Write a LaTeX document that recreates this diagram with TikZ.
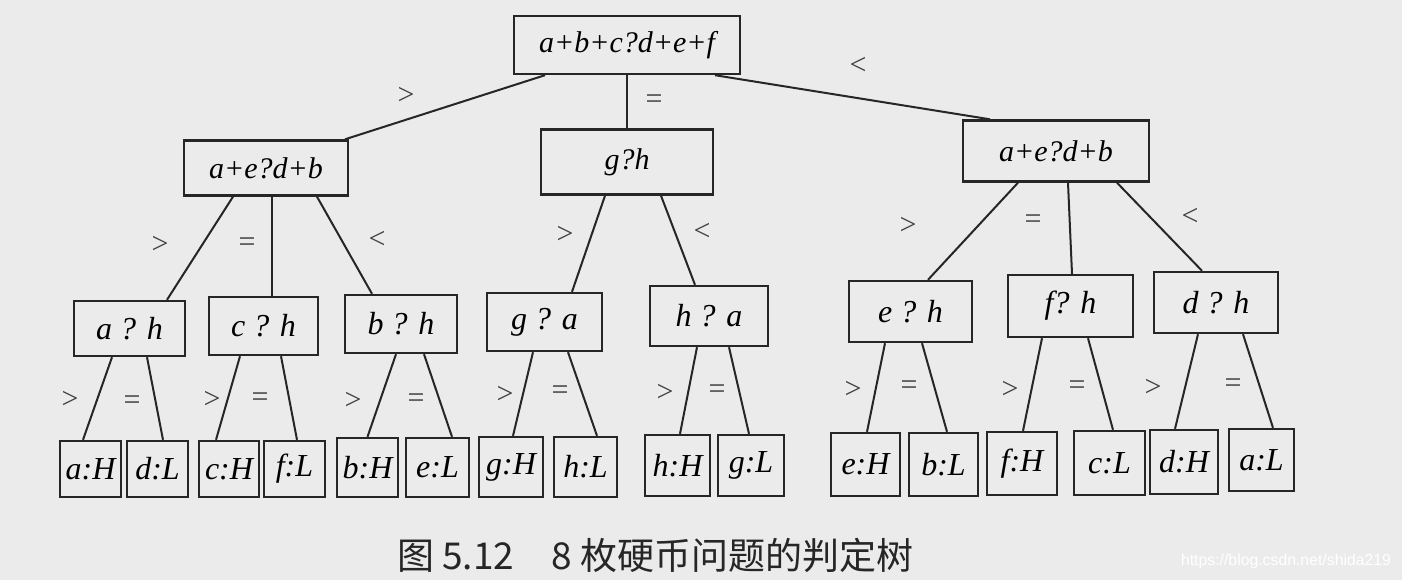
\documentclass[tikz,border=0pt]{standalone}
\usepackage{fontspec}
\setmainfont{Liberation Serif}
\newfontfamily\cjkfont{Noto Sans CJK SC}
\newfontfamily\urlfont{Liberation Sans}
\usepackage{tikz}

\tikzset{
  box/.style={draw=black!85, line width=1.2pt, inner sep=0pt, font=\fontsize{15}{18}\selectfont\itshape},
  leaf/.style={box, font=\fontsize{16}{19}\selectfont\itshape},
  rel/.style={inner sep=0pt, text=black!75, font=\fontsize{15}{17}\selectfont},
  edge/.style={draw=black!85, line width=1pt}
}

\begin{document}
\begin{tikzpicture}[x=0.5pt, y=-0.5pt]
      \fill[gray!16] (0,0) rectangle (1402,580);
      \useasboundingbox (0,0) rectangle (1402,580);

      % root
      \node[box, minimum width=113pt, minimum height=29pt] (root) at (627,45) {a+b+c?d+e+f};

      % second level
      \node[box, minimum width=82pt, minimum height=27.5pt] (lt) at (266,168) {a+e?d+b};
      \node[box, minimum width=86pt, minimum height=32.5pt] (mid) at (627,162) {g?h};
      \node[box, minimum width=93pt, minimum height=30.5pt] (rt) at (1056,151) {a+e?d+b};

      \draw[edge] ([xshift=-41pt]root.south) -- ([xshift=39.5pt]lt.north);
      \draw[edge] (root.south) -- (mid.north);
      \draw[edge] ([xshift=44pt]root.south) -- ([xshift=-33pt]rt.north);
      \node[rel] (r0a) at (406,96) {>};
      \node[rel] (r0b) at (654,102) {=};
      \node[rel] (r0c) at (858,66) {<};

      % third level
      \node[leaf, minimum width=55.5pt, minimum height=27.5pt] (ah) at (129.5,328.5) {a ? h};
      \node[leaf, minimum width=54.5pt, minimum height=29pt] (ch) at (263.5,326) {c ? h};
      \node[leaf, minimum width=56pt, minimum height=29pt] (bh) at (401,324) {b ? h};
      \node[leaf, minimum width=57.5pt, minimum height=29pt] (ga) at (544.5,322) {g ? a};
      \node[leaf, minimum width=59pt, minimum height=30pt] (ha) at (709,316) {h ? a};
      \node[leaf, minimum width=61.5pt, minimum height=30.5pt] (eh) at (910.5,311.5) {e ? h};
      \node[leaf, minimum width=62.5pt, minimum height=31pt] (fh) at (1070.5,306) {f? h};
      \node[leaf, minimum width=62pt, minimum height=30.5pt] (dh) at (1216,302.5) {d ? h};

      \draw[edge] ([xshift=-16.5pt]lt.south) -- ([xshift=18.75pt]ah.north);
      \draw[edge] ([xshift=3pt]lt.south) -- ([xshift=4.25pt]ch.north);
      \draw[edge] ([xshift=25.5pt]lt.south) -- ([xshift=-14.5pt]bh.north);
      \draw[edge] ([xshift=-11pt]mid.south) -- ([xshift=13.75pt]ga.north);
      \draw[edge] ([xshift=17pt]mid.south) -- ([xshift=-7pt]ha.north);
      \draw[edge] ([xshift=-19pt]rt.south) -- ([xshift=8.75pt]eh.north);
      \draw[edge] ([xshift=6pt]rt.south) -- ([xshift=0.75pt]fh.north);
      \draw[edge] ([xshift=30.5pt]rt.south) -- ([xshift=-7pt]dh.north);
      \node[rel] (r1a) at (160,245) {>};
      \node[rel] (r1b) at (247,245) {=};
      \node[rel] (r1c) at (377,240) {<};
      \node[rel] (r2a) at (565,235) {>};
      \node[rel] (r2c) at (702,232) {<};
      \node[rel] (r3a) at (908,226) {>};
      \node[rel] (r3b) at (1033,222) {=};
      \node[rel] (r3c) at (1190,217) {<};

      % leaves
      \node[leaf, minimum width=30.5pt, minimum height=28pt] (aH) at (90.5,469) {a:H};
      \node[leaf, minimum width=30.5pt, minimum height=28pt] (dL) at (157.5,469) {d:L};
      \node[leaf, minimum width=30pt, minimum height=28pt] (cH) at (229,469) {c:H};
      \node[leaf, minimum width=30.5pt, minimum height=28pt] (fL) at (294.5,469) {f:L};
      \node[leaf, minimum width=30.5pt, minimum height=29.5pt] (bH) at (367.5,467.5) {b:H};
      \node[leaf, minimum width=31.5pt, minimum height=29.5pt] (eL) at (437.5,467.5) {e:L};
      \node[leaf, minimum width=32pt, minimum height=30pt] (gH) at (511,467) {g:H};
      \node[leaf, minimum width=31.5pt, minimum height=30pt] (hL) at (585.5,467) {h:L};
      \node[leaf, minimum width=32.5pt, minimum height=30.5pt] (hH) at (677.5,465.5) {h:H};
      \node[leaf, minimum width=33pt, minimum height=30.5pt] (gL) at (751,465.5) {g:L};
      \node[leaf, minimum width=34.5pt, minimum height=31.5pt] (eH) at (865.5,464.5) {e:H};
      \node[leaf, minimum width=34.5pt, minimum height=31.5pt] (bL) at (943.5,464.5) {b:L};
      \node[leaf, minimum width=35pt, minimum height=31.5pt] (fH) at (1022,463.5) {f:H};
      \node[leaf, minimum width=35.5pt, minimum height=32pt] (cL) at (1109.5,463) {c:L};
      \node[leaf, minimum width=34pt, minimum height=32pt] (dH) at (1184,462) {d:H};
      \node[leaf, minimum width=32.5pt, minimum height=31pt] (aL) at (1261.5,460) {a:L};

      \draw[edge] ([xshift=-8.75pt]ah.south) -- ([xshift=-3.75pt]aH.north);
      \draw[edge] ([xshift=8.75pt]ah.south) -- ([xshift=2.75pt]dL.north);
      \draw[edge] ([xshift=-11.75pt]ch.south) -- ([xshift=-6.5pt]cH.north);
      \draw[edge] ([xshift=8.75pt]ch.south) -- ([xshift=1.25pt]fL.north);
      \draw[edge] ([xshift=-2.5pt]bh.south) -- (bH.north);
      \draw[edge] ([xshift=11.5pt]bh.south) -- ([xshift=7.25pt]eL.north);
      \draw[edge] ([xshift=-5.75pt]ga.south) -- ([xshift=1pt]gH.north);
      \draw[edge] ([xshift=11.75pt]ga.south) -- ([xshift=5.75pt]hL.north);
      \draw[edge] ([xshift=-6pt]ha.south) -- ([xshift=1.25pt]hH.north);
      \draw[edge] ([xshift=10pt]ha.south) -- ([xshift=-1pt]gL.north);
      \draw[edge] ([xshift=-12.75pt]eh.south) -- ([xshift=0.75pt]eH.north);
      \draw[edge] ([xshift=5.75pt]eh.south) -- ([xshift=1.75pt]bL.north);
      \draw[edge] ([xshift=-14.25pt]fh.south) -- ([xshift=0.5pt]fH.north);
      \draw[edge] ([xshift=8.75pt]fh.south) -- ([xshift=1.75pt]cL.north);
      \draw[edge] ([xshift=-9pt]dh.south) -- ([xshift=-4.5pt]dH.north);
      \draw[edge] ([xshift=13.5pt]dh.south) -- ([xshift=5.75pt]aL.north);
      \node[rel] (r4a) at (70,400) {>};
      \node[rel] (r4b) at (132,403) {=};
      \node[rel] (r5a) at (212,400) {>};
      \node[rel] (r5b) at (260,400) {=};
      \node[rel] (r6a) at (353,401) {>};
      \node[rel] (r6b) at (416,401) {=};
      \node[rel] (r7a) at (505,395) {>};
      \node[rel] (r7b) at (560,393) {=};
      \node[rel] (r8a) at (665,393) {>};
      \node[rel] (r8b) at (717,392) {=};
      \node[rel] (r9a) at (853,390) {>};
      \node[rel] (r9b) at (909,388) {=};
      \node[rel] (r10a) at (1010,390) {>};
      \node[rel] (r10b) at (1077,388) {=};
      \node[rel] (r11a) at (1153,388) {>};
      \node[rel] (r11b) at (1233,386) {=};

      % caption
      \node[text=black!85, font=\cjkfont\fontsize{18.5}{22}\selectfont] (cap) at (655,555) {图 5.12\quad 8 枚硬币问题的判定树};
      \node[text=white, font=\urlfont\fontsize{7.9}{9}\selectfont] (wm) at (1286,561) {https://blog.csdn.net/shida219};
\end{tikzpicture}
\end{document}
